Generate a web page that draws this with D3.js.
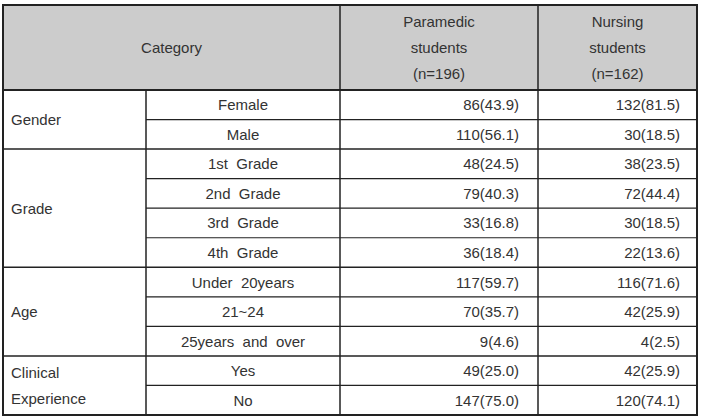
<!DOCTYPE html><html><head><meta charset="utf-8"><script src="https://cdn.jsdelivr.net/npm/d3@7"></script>
<style>body{margin:0;background:#fff}</style></head><body><svg id="c" width="704" height="417"></svg><script>
const groups=[{name:["Gender"],rows:["Female","Male"]},{name:["Grade"],rows:["1st  Grade","2nd  Grade","3rd  Grade","4th  Grade"]},{name:["Age"],rows:["Under  20years","21~24","25years  and  over"]},{name:["Clinical","Experience"],rows:["Yes","No"]}];
const paramedic=["86(43.9)","110(56.1)","48(24.5)","79(40.3)","33(16.8)","36(18.4)","117(59.7)","70(35.7)","9(4.6)","49(25.0)","147(75.0)"];
const nursing=["132(81.5)","30(18.5)","38(23.5)","72(44.4)","30(18.5)","22(13.6)","116(71.6)","42(25.9)","4(2.5)","42(25.9)","120(74.1)"];
const headers=[["Paramedic","students","(n=196)"],["Nursing","students","(n=162)"]];
(function(){
const svg=d3.select("#c");
const cx=[3,146,340,538,697], topY=5, hb=90, bottom=415, n=paramedic.length;
const y=d3.scaleLinear().domain([0,n]).range([hb,bottom]);
svg.append("rect").attr("x",cx[0]).attr("y",topY).attr("width",cx[4]-cx[0]).attr("height",hb-topY).attr("fill","#cccccc");
const g=svg.append("g").attr("font-family","Liberation Sans, Arial, sans-serif").attr("font-size",15).attr("fill","#333");
const ln=(x1,y1,x2,y2,w)=>svg.append("line").attr("x1",x1).attr("y1",y1).attr("x2",x2).attr("y2",y2).attr("stroke","#222").attr("stroke-width",w||1);
const t=(x,yy,s,a)=>g.append("text").attr("x",x).attr("y",yy).attr("text-anchor",a||"middle").attr("dominant-baseline","central").attr("xml:space","preserve").text(s);
t((cx[0]+cx[2])/2,(topY+hb)/2,"Category");
headers.forEach((h,i)=>h.forEach((s,j)=>t((cx[2+i]+cx[3+i])/2,21+j*26,s)));
let r=0;
groups.forEach(gr=>{const r0=r,r1=r+gr.rows.length;
 const mid=(y(r0)+y(r1))/2;
 gr.name.forEach((s,j)=>t(cx[0]+8,mid+(j-(gr.name.length-1)/2)*26,s,"start"));
 gr.rows.forEach((s,k)=>{const i=r0+k,ym=(y(i)+y(i+1))/2;
  t((cx[1]+cx[2])/2,ym,s);t(cx[3]-19,ym,paramedic[i],"end");t(cx[4]-17,ym,nursing[i],"end");
  if(k>0)ln(cx[1],y(i),cx[4],y(i),1.2);});
 ln(cx[0],y(r1),cx[4],y(r1),1.5);r=r1;});
ln(cx[0],hb,cx[4],hb,2);
ln(cx[1],hb,cx[1],bottom,1.5);ln(cx[2],topY,cx[2],bottom,1.5);ln(cx[3],topY,cx[3],bottom,1.5);
svg.append("rect").attr("x",cx[0]).attr("y",topY).attr("width",cx[4]-cx[0]).attr("height",bottom-topY).attr("fill","none").attr("stroke","#222").attr("stroke-width",2);
})();
</script></body></html>
